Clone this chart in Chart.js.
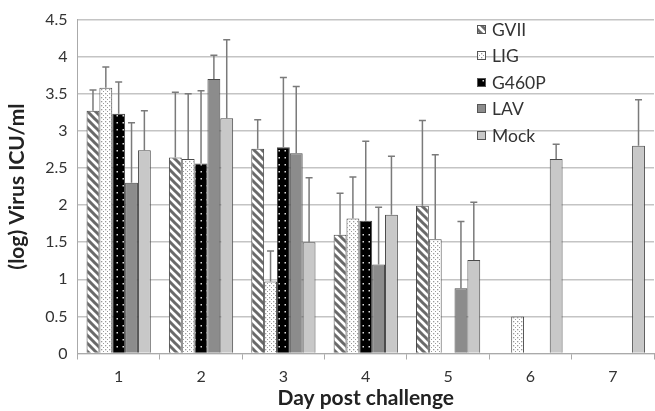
<!DOCTYPE html>
<html><head><meta charset="utf-8">
<script src="https://cdn.jsdelivr.net/npm/chart.js@4"></script>
<style>html,body{margin:0;padding:0;background:#fff}#wrap{width:655px;height:411px}</style>
</head><body><div id="wrap"><canvas id="c" width="655" height="411"></canvas></div>
<script>
const categories = ['1','2','3','4','5','6','7'];
const seriesNames = ['GVII','LIG','G460P','LAV','Mock'];
const yTicks = [0,0.5,1,1.5,2,2.5,3,3.5,4,4.5];
const yTickLabels = ['0','0.5','1','1.5','2','2.5','3','3.5','4','4.5'];
const gvii     = [3.27,2.64,2.76,1.60,1.99,null,null];
const gviiErr  = [3.55,3.52,3.15,2.16,3.14,null,null];
const lig      = [3.58,2.62,0.97,1.82,1.54,0.50,null];
const ligErr   = [3.86,3.50,1.38,2.38,2.68,null,null];
const g460p    = [3.23,2.56,2.78,1.79,null,null,null];
const g460pErr = [3.66,3.54,3.72,2.86,null,null,null];
const lav      = [2.30,3.70,2.70,1.20,0.88,null,null];
const lavErr   = [3.11,4.02,3.60,1.97,1.78,null,null];
const mock     = [2.74,3.17,1.50,1.87,1.26,2.62,2.80];
const mockErr  = [3.27,4.23,2.37,2.66,2.04,2.82,3.42];

function tile(w,h,draw){const c=document.createElement('canvas');c.width=w;c.height=h;const x=c.getContext('2d');draw(x,w,h);return x.createPattern(c,'repeat');}
const pStripe = tile(8,8,(x,w,h)=>{x.fillStyle='#fff';x.fillRect(0,0,w,h);x.strokeStyle='#6a6a6a';x.lineWidth=3;x.beginPath();
  x.moveTo(-2,-2);x.lineTo(w+2,h+2);x.moveTo(-2,h-2);x.lineTo(2,h+2);x.moveTo(w-2,-2);x.lineTo(w+2,2);x.stroke();});
const pDots = tile(4,4,(x,w,h)=>{x.fillStyle='#fff';x.fillRect(0,0,w,h);x.fillStyle='#9a9a9a';x.fillRect(1,1,1.3,1.3);x.fillRect(3,3,1,1);});
const pBlack = tile(6,7,(x,w,h)=>{x.fillStyle='#000';x.fillRect(0,0,w,h);x.fillStyle='#ddd';x.fillRect(2.5,3,1.5,1.5);});
const fills = [pStripe,pDots,pBlack,'#8c8c8c','#c8c8c8'];
const values = [gvii,lig,g460p,lav,mock];
const errs = [gviiErr,ligErr,g460pErr,lavErr,mockErr];

const FONT = 'Lato, "Open Sans", sans-serif';

const errorBars = {id:'errorBars', afterDatasetsDraw(chart){
  const ctx=chart.ctx, ys=chart.scales.y;
  ctx.save();ctx.strokeStyle='#7a7a7a';ctx.lineWidth=1.5;
  chart.data.datasets.forEach((ds,i)=>{
    const meta=chart.getDatasetMeta(i);
    meta.data.forEach((bar,j)=>{
      const e=errs[i][j]; if(e==null||ds.data[j]==null)return;
      const yt=ys.getPixelForValue(e), yb=bar.y;
      ctx.beginPath();ctx.moveTo(bar.x,yb);ctx.lineTo(bar.x,yt);
      ctx.moveTo(bar.x-3.5,yt);ctx.lineTo(bar.x+3.5,yt);ctx.stroke();
    });
  });
  ctx.restore();
}};

const legendPlugin = {id:'customLegend', afterDraw(chart){
  const ctx=chart.ctx; ctx.save();
  const x0=477, ys=[29,55,82,108,135];
  chart.data.datasets.forEach((ds,i)=>{
    const y=ys[i];
    ctx.fillStyle=ds.backgroundColor; ctx.fillRect(x0,y-4,8,8);
    ctx.strokeStyle='#555';ctx.lineWidth=1;ctx.strokeRect(x0+0.5,y-3.5,8,8);
    ctx.fillStyle='#333';ctx.font='17.5px '+FONT;ctx.textBaseline='middle';ctx.textAlign='left';
    ctx.fillText(ds.label,x0+15,y+1);
  });
  ctx.restore();
}};

new Chart(document.getElementById('c'),{
  type:'bar',
  data:{labels:categories,datasets:seriesNames.map((n,i)=>({label:n,data:values[i],backgroundColor:fills[i],borderColor:'#4a4a4a',borderWidth:1,
     categoryPercentage:0.78,barPercentage:1}))},
  options:{responsive:false,animation:false,
    layout:{padding:{top:16,right:1,left:0,bottom:0}},
    plugins:{legend:{display:false},tooltip:{enabled:false}},
    scales:{
      x:{grid:{display:true,drawOnChartArea:false,drawTicks:true,tickLength:6,color:'#aaa',offset:true},
         border:{color:'#aaa'},
         ticks:{color:'#333',font:{family:FONT,size:16},padding:8},
         title:{display:true,text:'Day post challenge',color:'#222',font:{family:FONT,size:21,weight:'bold'},padding:{top:-2,bottom:0}},
         afterFit(s){s.height=57.5;}},
      y:{min:0,max:4.5,
         afterBuildTicks(s){s.ticks=yTicks.map(v=>({value:v}));},
         grid:{color:'#c4c4c4',lineWidth:1.5,drawTicks:false},
         border:{color:'#aaa'},
         ticks:{color:'#333',font:{family:FONT,size:16},padding:10,callback:(v,i)=>yTickLabels[i]},
         title:{display:true,text:'(log) Virus ICU/ml',color:'#222',font:{family:FONT,size:21,weight:'bold'},padding:{top:5,bottom:4}},
         afterFit(s){s.width=77.5;}}
    }
  },
  plugins:[errorBars,legendPlugin]
});
</script></body></html>
